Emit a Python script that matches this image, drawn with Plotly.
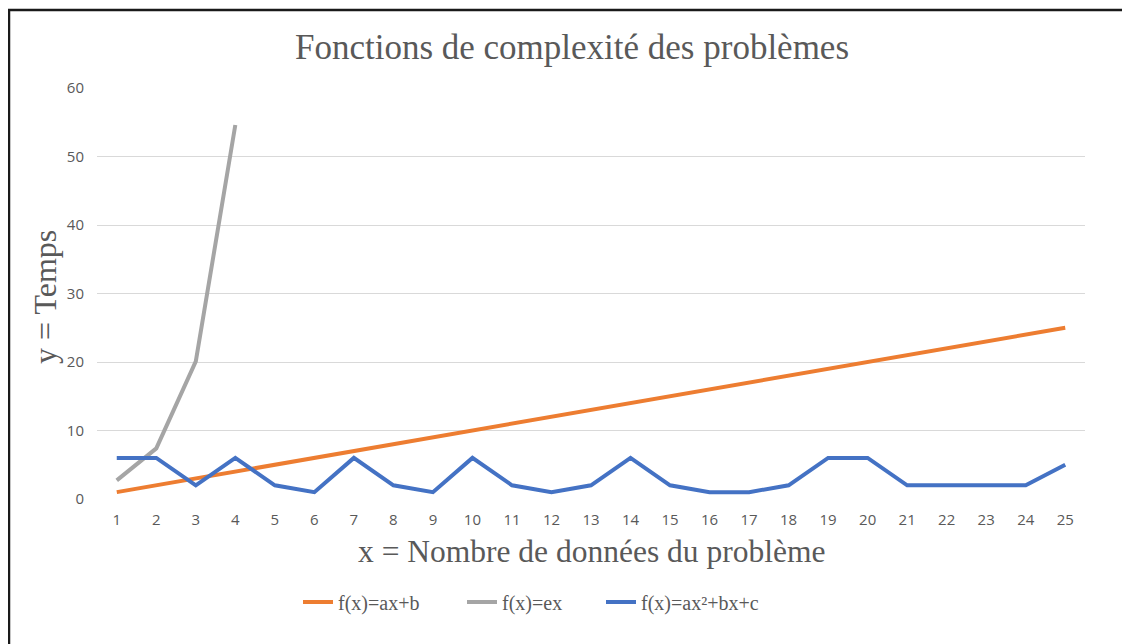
import plotly.graph_objects as go

# Data
x_values = list(range(1, 26))
linear_values = [1, 2, 3, 4, 5, 6, 7, 8, 9, 10, 11, 12, 13, 14, 15, 16, 17, 18, 19, 20, 21, 22, 23, 24, 25]
exp_x = [1, 2, 3, 4]
exp_values = [2.72, 7.39, 20.09, 54.6]
quad_values = [6, 6, 2, 6, 2, 1, 6, 2, 1, 6, 2, 1, 2, 6, 2, 1, 1, 2, 6, 6, 2, 2, 2, 2, 5]
y_ticks = [0, 10, 20, 30, 40, 50, 60]

series_names = ["f(x)=ax+b", "f(x)=ex", "f(x)=ax²+bx+c"]
colors = ["#ED7D31", "#A5A5A5", "#4472C4"]

W, H = 1122, 636          # page body margin of 8px shifts the figure
PL, PR, PT, PB = 89, 1077, 80, 491  # plot area in figure pixels
pw, ph = PR - PL, PB - PT

def px(xpix):
    return (xpix - 8 - PL) / pw

def py(ypix):
    return (PB - (ypix - 8)) / ph

fig = go.Figure()
fig.add_trace(go.Scatter(x=x_values, y=linear_values, mode="lines", name=series_names[0],
                         line=dict(color=colors[0], width=4), legend="legend"))
fig.add_trace(go.Scatter(x=exp_x, y=exp_values, mode="lines", name=series_names[1],
                         line=dict(color=colors[1], width=4), legend="legend2"))
fig.add_trace(go.Scatter(x=x_values, y=quad_values, mode="lines", name=series_names[2],
                         line=dict(color=colors[2], width=4), legend="legend3"))

serif = "Liberation Serif, Times New Roman, serif"
sans = "Open Sans, sans-serif"
grey = "#595959"

legend_font = dict(family=serif, size=20, color=grey)
def leg(xpix):
    return dict(orientation="h", x=px(xpix), xanchor="left", y=py(602), yanchor="middle",
                font=legend_font, itemwidth=30, bgcolor="rgba(0,0,0,0)")

fig.update_layout(
    width=W, height=H,
    margin=dict(l=PL, r=W - PR, t=PT, b=H - PB),
    paper_bgcolor="white", plot_bgcolor="white",
    showlegend=True,
    title=dict(text="Fonctions de complexité des problèmes", x=(572 - 8) / W, xanchor="center",
               y=1 - (47 - 8) / H, yanchor="middle",
               font=dict(family=serif, size=35, color=grey)),
    xaxis=dict(range=[0.5, 25.5], tickvals=x_values, ticktext=[str(v) for v in x_values],
               showgrid=False, zeroline=False, showline=False, ticks="", ticklabelstandoff=10,
               tickfont=dict(family=sans, size=15, color=grey), fixedrange=True),
    yaxis=dict(range=[0, 60], tickvals=y_ticks, showgrid=True, gridcolor="#D9D9D9", gridwidth=1,
               zeroline=False, showline=False, ticks="", ticklabelstandoff=12,
               tickfont=dict(family=sans, size=15, color=grey), fixedrange=True),
    legend=leg(298),
    legend2=leg(462),
    legend3=leg(601),
    annotations=[
        dict(text="y = Temps", xref="paper", yref="paper", x=px(45), y=py(297),
             xanchor="center", yanchor="middle", textangle=-90, showarrow=False,
             font=dict(family=serif, size=32, color=grey)),
        dict(text="x = Nombre de données du problème", xref="paper", yref="paper", x=px(591),
             y=py(551), xanchor="center", yanchor="middle", showarrow=False,
             font=dict(family=serif, size=31.5, color=grey)),
    ],
    shapes=[
        dict(type="rect", xref="paper", yref="paper", x0=px(9), x1=2.0,
             y0=-2.0, y1=py(10), line=dict(color="#1a1a1a", width=2.5),
             fillcolor="rgba(0,0,0,0)", layer="above"),
    ],
)

fig.write_html("out.html")
